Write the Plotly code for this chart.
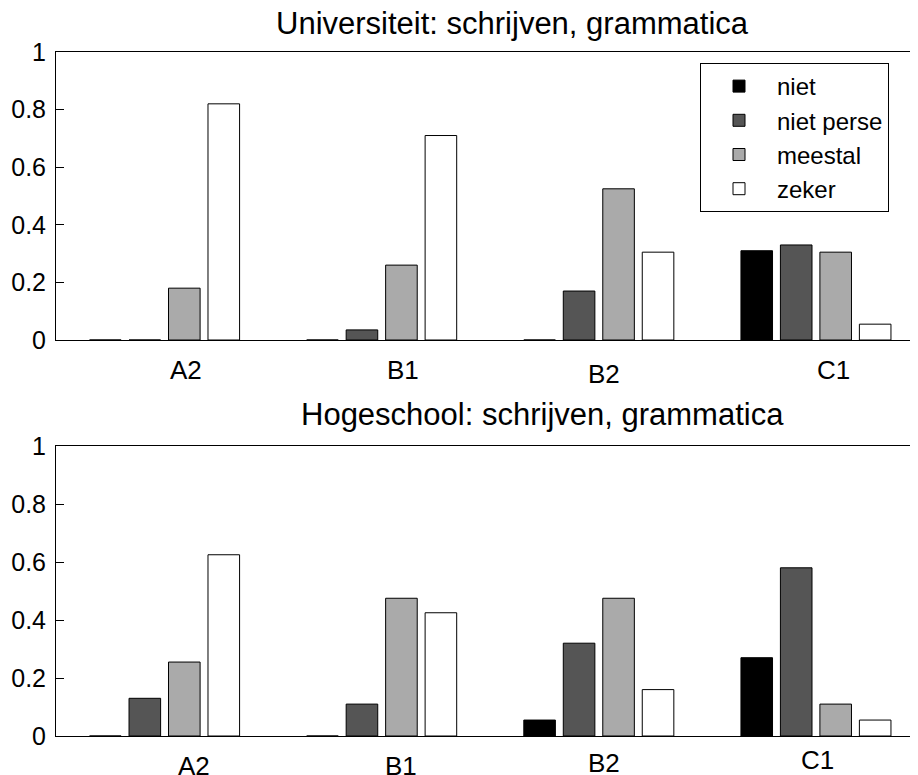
import plotly.graph_objects as go
from plotly.subplots import make_subplots

LEVELS = ["A2", "B1", "B2", "C1"]
ANSWERS = ["niet", "niet perse", "meestal", "zeker"]
GRAYS = ["#000000", "#555555", "#aaaaaa", "#ffffff"]

# Universiteit
UNI_NIET = [0, 0, 0, 0.31]
UNI_NIET_PERSE = [0, 0.035, 0.17, 0.33]
UNI_MEESTAL = [0.18, 0.26, 0.525, 0.305]
UNI_ZEKER = [0.82, 0.71, 0.305, 0.055]

# Hogeschool
HBO_NIET = [0, 0, 0.055, 0.27]
HBO_NIET_PERSE = [0.13, 0.11, 0.32, 0.58]
HBO_MEESTAL = [0.255, 0.475, 0.475, 0.11]
HBO_ZEKER = [0.625, 0.425, 0.16, 0.055]

TITLES = ["Universiteit: schrijven, grammatica", "Hogeschool: schrijven, grammatica"]

FONT = "Liberation Sans, Arial, sans-serif"

# page body has an 8px margin, so the figure is 8px smaller than the window
W, H = 910, 767
OFF = 8


def px(x):
    # window x pixel -> paper fraction
    return (x - OFF) / W


def py(y):
    # window y pixel -> paper fraction
    return (H + OFF - y) / H


# the category labels in the original sit a bit off-centre (px nudges)
LABEL_NUDGE = [
    [(21, 0), (21, 0), (5, -4), (18, 0)],
    [(29, 0), (19, 0), (5, 3), (2, 6)],
]

panels = [
    [UNI_NIET, UNI_NIET_PERSE, UNI_MEESTAL, UNI_ZEKER],
    [HBO_NIET, HBO_NIET_PERSE, HBO_MEESTAL, HBO_ZEKER],
]

fig = make_subplots(rows=2, cols=1)

for row, series in enumerate(panels, start=1):
    for name, vals, col in zip(ANSWERS, series, GRAYS):
        fig.add_trace(
            go.Bar(
                x=LEVELS,
                y=vals,
                name=name,
                marker=dict(color=col, line=dict(color="#000000", width=1)),
                showlegend=(row == 1),
                legendgroup=name,
            ),
            row=row,
            col=1,
        )

x_dom = [px(56), 1.0]
y_doms = [[py(340), py(52)], [py(736), py(446)]]

for i in range(2):
    sfx = "" if i == 0 else str(i + 1)
    fig.layout["xaxis" + sfx].update(
        domain=x_dom,
        type="category",
        range=[-0.5, 3.47],
        showticklabels=False,
        ticks="",
        showgrid=False,
        zeroline=False,
        showline=True,
        linecolor="#000000",
        linewidth=1,
        mirror=True,
        automargin=False,
    )
    fig.layout["yaxis" + sfx].update(
        domain=y_doms[i],
        range=[0, 1],
        dtick=0.2,
        tick0=0,
        ticks="inside",
        ticklen=8,
        tickcolor="#000000",
        showgrid=False,
        zeroline=False,
        showline=True,
        linecolor="#000000",
        linewidth=1,
        mirror="ticks",
        tickfont=dict(size=25, color="#000000", family=FONT),
        ticklabelstandoff=4,
        automargin=False,
    )

annotations = []
for i in range(2):
    sfx = "" if i == 0 else str(i + 1)
    for lvl, (dx, dy) in zip(LEVELS, LABEL_NUDGE[i]):
        annotations.append(
            dict(
                x=lvl,
                y=0,
                xref="x" + sfx,
                yref="y" + sfx,
                text=lvl,
                showarrow=False,
                xanchor="center",
                yanchor="middle",
                xshift=dx,
                yshift=-30 + dy,
                font=dict(size=26, color="#000000", family=FONT),
            )
        )

annotations.append(
    dict(x=px(512), y=py(23), xref="paper", yref="paper", text=TITLES[0],
         showarrow=False, xanchor="center", yanchor="middle",
         font=dict(size=31, color="#000000", family=FONT))
)
annotations.append(
    dict(x=px(542), y=py(414.5), xref="paper", yref="paper", text=TITLES[1],
         showarrow=False, xanchor="center", yanchor="middle",
         font=dict(size=31, color="#000000", family=FONT))
)

fig.update_layout(
    width=W,
    height=H,
    margin=dict(l=0, r=0, t=0, b=0, autoexpand=False),
    paper_bgcolor="#ffffff",
    plot_bgcolor="#ffffff",
    barmode="group",
    bargap=0.2727,
    bargroupgap=0.2,
    annotations=annotations,
    legend=dict(
        x=px(700),
        y=py(63),
        xanchor="left",
        yanchor="top",
        bgcolor="#ffffff",
        bordercolor="#000000",
        borderwidth=1,
        font=dict(size=24, color="#000000", family=FONT),
        itemwidth=66,
        tracegroupgap=0,
    ),
    font=dict(family=FONT, color="#000000"),
)

fig.write_html("out.html")
